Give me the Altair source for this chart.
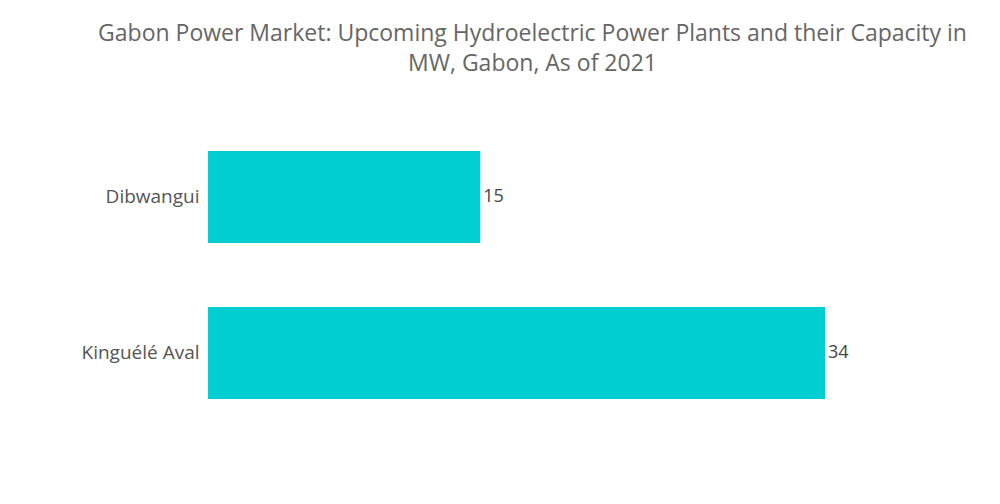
import altair as alt
import pandas as pd

plants = ["Dibwangui", "Kinguélé Aval"]
capacity_mw = [15, 34]

df = pd.DataFrame({"plant": plants, "mw": capacity_mw})

FONT = "Open Sans"

base = alt.Chart(df).encode(
    y=alt.Y("plant:N", sort=plants, title=None,
            scale=alt.Scale(paddingInner=0.41, paddingOuter=0.205),
            axis=alt.Axis(domain=False, ticks=False, labelPadding=9,
                          labelFontSize=19, labelColor="#555555",
                          labelFont=FONT)),
    x=alt.X("mw:Q", title=None, scale=alt.Scale(domain=[0, 34], nice=False, zero=True),
            axis=None),
)

bars = base.mark_bar(color="#00CED1")
labels = base.mark_text(align="left", baseline="middle", dx=3, fontSize=18,
                        color="#444444", font=FONT).encode(text="mw:Q")

chart = (bars + labels).properties(
    width=617,
    height=312,
    title=alt.TitleParams(
        ["Gabon Power Market: Upcoming Hydroelectric Power Plants and their Capacity in",
         "MW, Gabon, As of 2021"],
        anchor="middle", fontSize=23, font=FONT, fontWeight="normal",
        color="#666666", lineHeight=30, offset=43, dx=16,
    ),
    autosize=alt.AutoSizeParams(type="none"),
    padding={"left": 200, "top": 111, "right": 150, "bottom": 65},
).configure_view(stroke=None)

chart.save("out.html", embed_options={"renderer": "svg", "actions": False})
